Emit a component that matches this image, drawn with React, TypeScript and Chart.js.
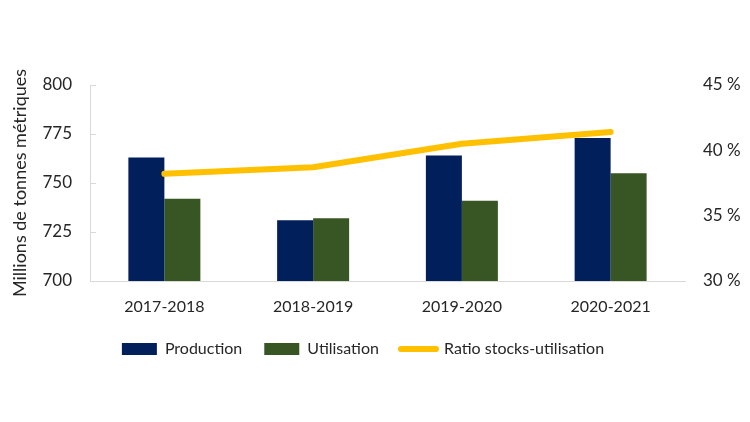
import React, { useEffect, useRef } from "react";
import { Chart, registerables } from "chart.js";

Chart.register(...registerables);

const categories = ["2017-2018", "2018-2019", "2019-2020", "2020-2021"];
const production = [763, 731, 764, 773];
const utilisation = [742, 732, 741, 755];
const ratioStocks = [38.2, 38.7, 40.5, 41.4];
const leftTicks = [700, 725, 750, 775, 800];
const rightTicks = [30, 35, 40, 45];
const seriesNames = ["Production", "Utilisation", "Ratio stocks-utilisation"];
const axisTitle = "Millions de tonnes métriques";

const NAVY = "#001F5B";
const GREEN = "#375623";
const GOLD = "#FFC000";
const TEXT = "#262626";
const AXIS = "#D9D9D9";
const FONT = { family: "Lato", size: 16 };
const TICK_FONT = { family: "Lato", size: 17 };
const TITLE_FONT = { family: "Lato", size: 18 };

const innerTicks = {
  id: "innerTicks",
  afterLayout(chart: any) {
    if (chart.legend) chart.legend.right -= 24;
  },
  afterDatasetsDraw(chart: any) {
    const s = chart.scales.y;
    const ctx = chart.ctx;
    const left = chart.chartArea.left;
    ctx.save();
    ctx.strokeStyle = AXIS;
    ctx.lineWidth = 1;
    leftTicks.forEach((v) => {
      const y = Math.round(s.getPixelForValue(v)) + 0.5;
      ctx.beginPath();
      ctx.moveTo(left, y);
      ctx.lineTo(left + 6, y);
      ctx.stroke();
    });
    ctx.restore();
  },
};

export default function App() {
  const ref = useRef<HTMLCanvasElement | null>(null);
  useEffect(() => {
    if (!ref.current) return;
    const chart = new Chart(ref.current, {
      type: "bar",
      data: {
        labels: categories,
        datasets: [
          {
            type: "bar",
            label: seriesNames[0],
            data: production,
            backgroundColor: NAVY,
            yAxisID: "y",
            order: 1,
            barPercentage: 1,
            categoryPercentage: 0.484,
          },
          {
            type: "bar",
            label: seriesNames[1],
            data: utilisation,
            backgroundColor: GREEN,
            yAxisID: "y",
            order: 1,
            barPercentage: 1,
            categoryPercentage: 0.484,
          },
          {
            type: "line",
            label: seriesNames[2],
            data: ratioStocks,
            borderColor: GOLD,
            backgroundColor: GOLD,
            borderWidth: 6,
            borderCapStyle: "round",
            borderJoinStyle: "round",
            pointRadius: 0,
            tension: 0,
            yAxisID: "y1",
            order: 0,
          },
        ] as any,
      },
      options: {
        animation: false,
        responsive: true,
        maintainAspectRatio: false,
        layout: { padding: { top: 85, bottom: 55, left: 0, right: 0 } },
        plugins: {
          tooltip: { enabled: false },
          legend: {
            position: "bottom",
            labels: {
              usePointStyle: true,
              pointStyleWidth: 35,
              boxHeight: 12,
              padding: 22,
              color: TEXT,
              font: FONT,
              generateLabels: (c: any) =>
                c.data.datasets.map((d: any, i: number) => {
                  const isLine = d.type === "line";
                  return {
                    text: d.label,
                    datasetIndex: i,
                    fillStyle: isLine ? GOLD : d.backgroundColor,
                    strokeStyle: isLine ? GOLD : d.backgroundColor,
                    lineWidth: isLine ? 6 : 0,
                    lineCap: isLine ? "round" : "butt",
                    pointStyle: isLine ? "line" : "rect",
                    fontColor: TEXT,
                    hidden: false,
                  };
                }),
            },
          },
        },
        scales: {
          x: {
            grid: { display: false, drawTicks: false },
            border: { display: true, color: AXIS, width: 1 },
            ticks: { color: TEXT, font: FONT, padding: 16, maxRotation: 0 },
            afterFit: (s: any) => {
              s.height = 38;
            },
          },
          y: {
            position: "left",
            min: 700,
            max: 800,
            afterBuildTicks: (s: any) => {
              s.ticks = leftTicks.map((v) => ({ value: v }));
            },
            grid: { display: false, drawTicks: false },
            border: { display: true, color: AXIS, width: 1 },
            ticks: { color: TEXT, font: TICK_FONT, padding: 18 },
            title: {
              display: true,
              text: axisTitle,
              color: TEXT,
              font: TITLE_FONT,
              padding: { top: 9, bottom: 0 },
            },
            afterFit: (s: any) => {
              s.width = 90;
            },
          },
          y1: {
            position: "right",
            min: 30,
            max: 45,
            afterBuildTicks: (s: any) => {
              s.ticks = rightTicks.map((v) => ({ value: v }));
            },
            grid: { display: false, drawTicks: false },
            border: { display: false },
            ticks: {
              color: TEXT,
              font: TICK_FONT,
              padding: 18,
              callback: (v: any) => `${v} %`,
            },
            afterFit: (s: any) => {
              s.width = 65;
            },
          },
        },
      },
      plugins: [innerTicks],
    });
    return () => chart.destroy();
  }, []);

  return (
    <div style={{ position: "fixed", left: 0, top: 0, width: 750, height: 422, background: "#fff" }}>
      <canvas ref={ref} />
    </div>
  );
}
